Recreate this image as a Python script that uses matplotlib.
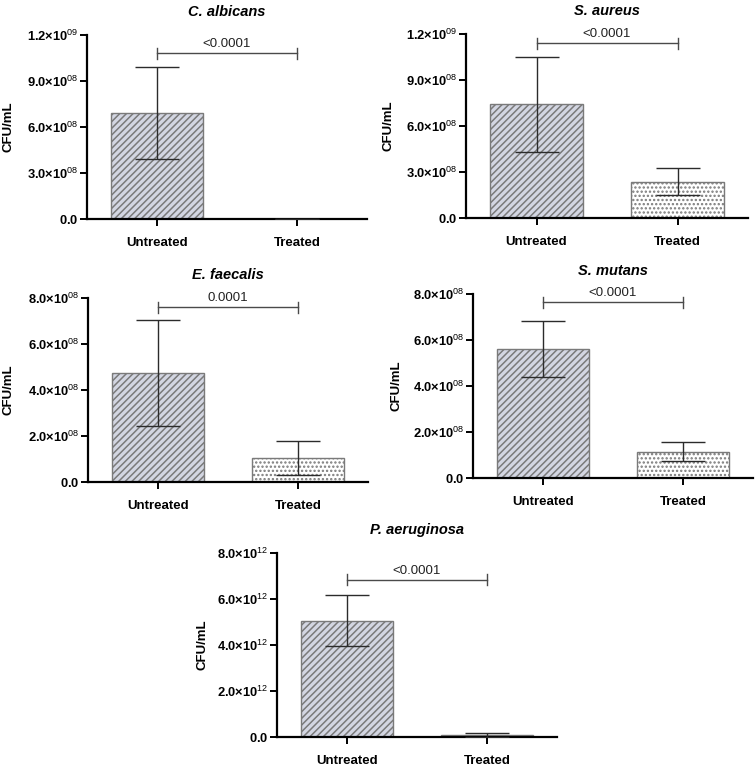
import matplotlib
matplotlib.use("Agg")
import matplotlib.pyplot as plt

plt.rcParams['font.family'] = ['Liberation Sans', 'DejaVu Sans']
plt.rcParams['mathtext.fontset'] = 'custom'
plt.rcParams['mathtext.rm'] = 'Liberation Sans'
plt.rcParams['mathtext.bf'] = 'Liberation Sans:bold'
plt.rcParams['mathtext.it'] = 'Liberation Sans:italic'
plt.rcParams['hatch.color'] = '#767676'
plt.rcParams['hatch.linewidth'] = 1.1

# --- Data ---
groups = ['Untreated', 'Treated']
titles = ['C. albicans', 'S. aureus', 'E. faecalis', 'S. mutans', 'P. aeruginosa']
means = [[6.9e8, 0.0], [7.42e8, 2.38e8], [4.75e8, 1.05e8], [5.6e8, 1.14e8], [5.06e12, 0.08e12]]
sds = [[3.0e8, 0.0], [3.1e8, 0.9e8], [2.3e8, 0.75e8], [1.23e8, 0.41e8], [1.1e12, 0.09e12]]
pvals = ['<0.0001', '<0.0001', '0.0001', '<0.0001', '<0.0001']
bracket_y = [1.08e9, 1.14e9, 7.6e8, 7.65e8, 6.83e12]
y_max = [1.2e9, 1.2e9, 8e8, 8e8, 8e12]
y_ticks = [[0, 3e8, 6e8, 9e8, 1.2e9], [0, 3e8, 6e8, 9e8, 1.2e9],
           [0, 2e8, 4e8, 6e8, 8e8], [0, 2e8, 4e8, 6e8, 8e8],
           [0, 2e12, 4e12, 6e12, 8e12]]
y_ticklabels = [['0.0', '3.0', '6.0', '9.0', '1.2'], ['0.0', '3.0', '6.0', '9.0', '1.2'],
                ['0.0', '2.0', '4.0', '6.0', '8.0'], ['0.0', '2.0', '4.0', '6.0', '8.0'],
                ['0.0', '2.0', '4.0', '6.0', '8.0']]
y_exps = [['', '08', '08', '08', '09'], ['', '08', '08', '08', '09'],
          ['', '08', '08', '08', '08'], ['', '08', '08', '08', '08'],
          ['', '12', '12', '12', '12']]

# axes boxes in pixels: left, bottom(from top), width, y-label right edge x
W, H = 755, 766
boxes = [(87, 219, 280, 15), (466, 218, 282, 394), (88, 482, 280, 15),
         (473, 478, 280, 402), (277, 737, 280, 209)]

fig = plt.figure(figsize=(7.55, 7.66), dpi=100)

for i in range(5):
    left, bottom, width, lab_x = boxes[i]
    ax = fig.add_axes([left / W, (H - bottom) / H, width / W, 184 / H])
    x = [0, 1]
    ax.bar(x[0], means[i][0], width=0.66, color='#d3d6e2', edgecolor='#7a7a7a',
           linewidth=1.0, hatch='/////', zorder=2)
    ax.bar(x[1], means[i][1], width=0.66, color='white', edgecolor='#7a7a7a',
           linewidth=1.0, hatch='....', zorder=2)
    ax.errorbar(x, means[i], yerr=sds[i], fmt='none', ecolor='#2b2b2b',
                elinewidth=1.0, capsize=16, capthick=1.0, zorder=3)

    # significance bracket
    by = bracket_y[i]
    tick = y_max[i] * 0.03
    ax.plot([0, 1], [by, by], color='#4a4a4a', lw=1.0, clip_on=False)
    ax.plot([0, 0], [by - tick, by + tick], color='#4a4a4a', lw=1.0, clip_on=False)
    ax.plot([1, 1], [by - tick, by + tick], color='#4a4a4a', lw=1.0, clip_on=False)
    ax.text(0.5, by + tick * 0.6, pvals[i], ha='center', va='bottom', fontsize=9.5,
            color='#222222')

    ax.set_xlim(-0.5, 1.5)
    ax.set_ylim(0, y_max[i])
    ax.set_xticks(x)
    ax.set_xticklabels(groups, fontsize=9.5, fontweight='bold')
    labels = []
    for lab, ex in zip(y_ticklabels[i], y_exps[i]):
        if ex == '':
            labels.append(r'$\mathbf{' + lab + '}$')
        else:
            labels.append(r'$\mathbf{' + lab + r'{\times}10}^{\mathrm{' + ex + '}}$')
    ax.set_yticks(y_ticks[i])
    ax.set_yticklabels(labels, fontsize=9.3)
    ax.set_ylabel('CFU/mL', fontsize=9.5, fontweight='bold')
    ax.yaxis.set_label_coords((lab_x - left) / width, 0.5)
    ax.set_title(titles[i], fontsize=10.5, fontweight='bold', style='italic', pad=14)

    for side in ['top', 'right']:
        ax.spines[side].set_visible(False)
    for side in ['left', 'bottom']:
        ax.spines[side].set_linewidth(1.6)
    ax.tick_params(axis='both', length=5, width=1.4, direction='out')
    ax.tick_params(axis='x', pad=8)
    ax.tick_params(axis='y', pad=1)

fig.savefig('out.png', dpi=100, facecolor='white')
